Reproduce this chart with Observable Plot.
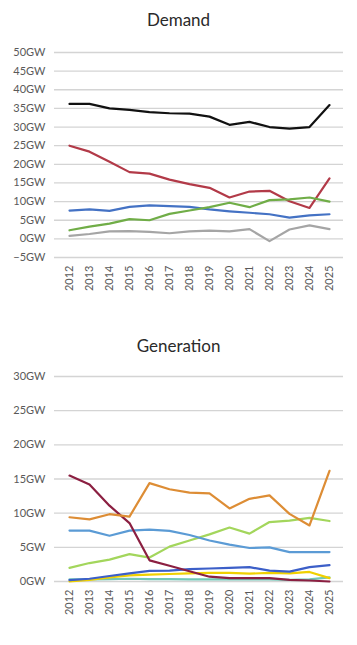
<!DOCTYPE html>
<html><head><meta charset="utf-8">
<script src="https://cdn.jsdelivr.net/npm/d3@7"></script>
<script src="https://cdn.jsdelivr.net/npm/@observablehq/plot@0.6"></script>
<style>
body{margin:0;background:#fff;font-family:Lato,sans-serif;}
.title{text-align:center;font-size:17px;color:#2a2a2a;line-height:20px;font-weight:400;}
#t1{height:28px;padding-top:10px;}
#t2{height:26px;padding-top:34px;}
svg{display:block}
</style></head><body>
<div class="title" id="t1">Demand</div><div id="c1"></div>
<div class="title" id="t2">Generation</div><div id="c2"></div>
<script>
const years = [2012,2013,2014,2015,2016,2017,2018,2019,2020,2021,2022,2023,2024,2025];

// Demand series (GW)
const demandTotal = [36.2,36.2,35.0,34.6,34.0,33.7,33.6,32.8,30.6,31.4,30.0,29.6,30.0,35.9];
const demandRed   = [25.0,23.4,20.7,17.9,17.5,15.9,14.7,13.7,11.1,12.7,12.9,10.1,8.3,16.2];
const demandBlue  = [7.6,7.9,7.5,8.6,9.0,8.8,8.6,7.9,7.4,7.0,6.6,5.7,6.3,6.6];
const demandGreen = [2.3,3.3,4.1,5.3,5.0,6.7,7.6,8.5,9.7,8.5,10.4,10.6,11.1,10.0];
const demandGray  = [0.8,1.3,2.0,2.1,1.9,1.5,2.0,2.2,2.0,2.6,-0.6,2.5,3.6,2.6];
const demandNames  = ["D1","D2","D3","D4","D5"];
const demandColors = ["#111111","#b23a48","#4472c4","#70ad47","#a5a5a5"];
const demandTicks  = [-5,0,5,10,15,20,25,30,35,40,45,50];

// Generation series (GW)
const genOrange    = [9.4,9.1,9.85,9.5,14.4,13.5,13.0,12.9,10.7,12.1,12.6,9.9,8.2,16.2];
const genMaroon    = [15.5,14.2,11.1,8.55,3.1,2.3,1.5,0.7,0.5,0.5,0.5,0.25,0.15,0.0];
const genLightBlue = [7.45,7.45,6.7,7.45,7.6,7.4,6.8,6.0,5.4,4.9,5.0,4.3,4.3,4.3];
const genLightGreen= [2.0,2.7,3.2,4.0,3.5,5.1,6.0,6.9,7.9,7.0,8.7,8.9,9.3,8.85];
const genDarkBlue  = [0.2,0.4,0.8,1.2,1.55,1.6,1.8,1.9,2.0,2.1,1.6,1.45,2.1,2.4];
const genYellow    = [0.0,0.25,0.6,0.9,1.0,1.1,1.2,1.25,1.25,1.15,1.25,1.2,1.4,0.5];
const genTeal      = [0.3,0.3,0.35,0.4,0.35,0.35,0.3,0.3,0.3,0.3,0.3,0.25,0.3,0.6];
const genNames  = ["G1","G2","G3","G4","G5","G6","G7"];
const genColors = ["#72c7b7","#f0d000","#3c5fc8","#a3d65c","#5b9bd5","#8b1f41","#dd8d35"];
const genTicks  = [0,5,10,15,20,25,30];

function rows(names, arrays) {
  const out = [];
  names.forEach((n, i) => arrays[i].forEach((v, j) => out.push({series: n, year: years[j], value: v})));
  return out;
}

const fmt = d => (d < 0 ? "\u2212" + Math.abs(d) : d) + "GW";

function chart(data, names, colors, ticks, domain, height) {
  return Plot.plot({
    width: 357,
    height,
    marginTop: 14,
    marginLeft: 54,
    marginRight: 14,
    marginBottom: 45,
    style: {fontFamily: "Lato, sans-serif", fontSize: "11px", color: "#595959", background: "#fff"},
    x: {type: "point", domain: years, padding: 0.53},
    y: {domain},
    color: {type: "ordinal", domain: names, range: colors},
    marks: [
      Plot.gridY(ticks, {stroke: "#d4d4d4", strokeOpacity: 1, strokeWidth: 1.3}),
      Plot.axisY(ticks, {tickSize: 0, tickPadding: 9, tickFormat: fmt, label: null, fill: "#595959"}),
      Plot.axisX({tickRotate: -90, tickSize: 0, tickPadding: 8, tickFormat: d => String(d), label: null, fill: "#595959"}),
      Plot.line(data, {x: "year", y: "value", z: "series", stroke: "series", strokeWidth: 2.2})
    ]
  });
}

document.getElementById("c1").append(
  chart(rows(demandNames, [demandTotal, demandRed, demandBlue, demandGreen, demandGray]),
        demandNames, demandColors, demandTicks, [-5, 50], 264)
);
document.getElementById("c2").append(
  chart(rows(genNames, [genTeal, genYellow, genDarkBlue, genLightGreen, genLightBlue, genMaroon, genOrange]),
        genNames, genColors, genTicks, [0, 30], 264)
);
</script>
</body></html>
